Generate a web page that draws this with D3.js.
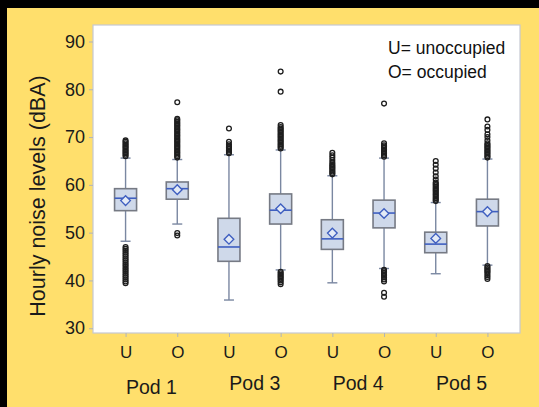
<!DOCTYPE html>
<html><head><meta charset="utf-8">
<script src="https://cdn.jsdelivr.net/npm/d3@7"></script>
<style>body{margin:0;background:#000;}svg{display:block;}</style>
</head><body>
<script>
const categories = ["U","O","U","O","U","O","U","O"];
const pods = ["Pod 1","Pod 3","Pod 4","Pod 5"];
const yTicks = [30,40,50,60,70,80,90];
const q1     = [54.6, 57.0, 44.0, 51.8, 46.5, 51.0, 45.8, 51.4];
const median = [57.2, 59.2, 47.0, 54.7, 48.7, 54.1, 47.6, 54.4];
const q3     = [59.2, 60.6, 53.0, 58.1, 52.7, 56.8, 50.1, 57.0];
const mean   = [56.7, 59.0, 48.6, 55.0, 49.9, 54.0, 48.8, 54.4];
const whiskLo= [48.2, 51.8, 35.9, 42.2, 39.5, 42.5, 41.4, 43.2];
const whiskHi= [65.6, 65.3, 66.3, 67.3, 61.9, 65.6, 56.3, 65.4];
const outliers = [
  [66.0,66.3,66.6,66.9,67.2,67.5,67.8,68.1,68.4,68.7,69.0,69.3,
   47.0,46.6,46.2,45.8,45.4,45.0,44.6,44.2,43.8,43.4,43.0,42.6,42.2,41.8,41.4,41.0,40.6,40.2,39.8,39.4],
  [65.7,66.0,66.3,66.6,66.9,67.2,67.5,67.8,68.1,68.4,68.7,69.0,69.3,69.6,69.9,70.2,70.5,70.8,71.1,71.4,71.7,72.0,72.3,72.6,72.9,73.2,73.5,73.8,77.3,
   49.9,49.4],
  [66.6,66.9,67.2,67.5,67.8,68.1,68.5,69.0,71.8],
  [67.6,67.9,68.2,68.5,68.8,69.1,69.4,69.7,70.0,70.3,70.6,70.9,71.2,71.5,71.8,72.1,72.5,79.5,83.7,
   41.8,41.5,41.2,40.9,40.6,40.3,40.0,39.6,39.2],
  [62.2,62.5,62.8,63.1,63.4,63.7,64.0,64.3,64.7,65.2,65.7,66.2,66.7],
  [65.9,66.2,66.5,66.8,67.1,67.4,67.7,68.0,68.3,68.7,77.0,
   42.2,41.9,41.6,41.3,41.0,40.6,40.2,39.8,37.4,36.6],
  [56.6,56.9,57.2,57.5,57.8,58.1,58.4,58.7,59.0,59.3,59.6,59.9,60.2,60.5,61.1,61.8,62.6,63.4,64.2,65.0],
  [65.7,66.0,66.3,66.6,66.9,67.2,67.5,67.8,68.1,68.4,68.7,69.3,70.0,70.6,71.5,72.2,73.7,
   43.0,42.7,42.4,42.1,41.8,41.5,41.1,40.7,40.3]
];
const legendLines = ["U= unoccupied","O= occupied"];
const yTitle = "Hourly noise levels (dBA)";

const W = 539, H = 407;
const svg = d3.select("body").append("svg").attr("width", W).attr("height", H);
svg.append("rect").attr("width", W).attr("height", H).attr("fill", "#000");
svg.append("rect").attr("x", 7).attr("y", 8).attr("width", W-7).attr("height", H-8).attr("fill", "#FFDF6C");

const L = 93, R = 520, T = 25, B = 333;
svg.append("rect").attr("x", L).attr("y", T).attr("width", R-L).attr("height", B-T)
  .attr("fill", "#fff").attr("stroke", "#c5c9d2").attr("stroke-width", 1.2);

const y = d3.scaleLinear().domain([29.0, 93.45]).range([B, T]);
const idx = categories.map((d,i)=>i);
const x = d3.scalePoint().domain(idx).range([L, R]).padding(0.63);

const font = "Liberation Sans, Arial, sans-serif";
const yAxis = d3.axisLeft(y).tickValues(yTicks).tickSize(4).tickPadding(4);
const ga = svg.append("g").attr("transform", `translate(${L},0)`).call(yAxis);
ga.select(".domain").remove();
ga.selectAll("line").attr("stroke", "#b0b4bc");
ga.selectAll("text").attr("font-family", font).attr("font-size", 18).attr("fill", "#1a1a1a");

const xAxis = d3.axisBottom(x).tickFormat(i => categories[i]).tickSize(4).tickPadding(9);
const gx = svg.append("g").attr("transform", `translate(0,${B})`).call(xAxis);
gx.select(".domain").remove();
gx.selectAll("line").attr("stroke", "#b0b4bc");
gx.selectAll("text").attr("font-family", font).attr("font-size", 17).attr("fill", "#1a1a1a");

pods.forEach((p, k) => {
  const cx = (x(2*k) + x(2*k+1)) / 2;
  svg.append("text").attr("x", cx).attr("y", k === 0 ? 394 : 390)
    .attr("text-anchor", "middle").attr("font-family", font).attr("font-size", 19.5)
    .attr("fill", "#1a1a1a").text(p);
});

svg.append("text").attr("transform", `translate(45,196) rotate(-90)`)
  .attr("text-anchor", "middle").attr("font-family", font).attr("font-size", 21.5)
  .attr("fill", "#1a1a1a").text(yTitle);

legendLines.forEach((t, k) => {
  svg.append("text").attr("x", 388).attr("y", 54 + k*24)
    .attr("font-family", font).attr("font-size", 17.5).attr("fill", "#111").text(t);
});

const bw = 22, cap = 10;
const g = svg.append("g");
idx.forEach(i => {
  const cx = x(i);
  g.append("line").attr("x1", cx).attr("x2", cx).attr("y1", y(q3[i])).attr("y2", y(whiskHi[i]))
    .attr("stroke", "#7a87a1").attr("stroke-width", 1.4);
  g.append("line").attr("x1", cx).attr("x2", cx).attr("y1", y(q1[i])).attr("y2", y(whiskLo[i]))
    .attr("stroke", "#7a87a1").attr("stroke-width", 1.4);
  [whiskHi[i], whiskLo[i]].forEach(v => {
    g.append("line").attr("x1", cx-cap/2).attr("x2", cx+cap/2).attr("y1", y(v)).attr("y2", y(v))
      .attr("stroke", "#7a87a1").attr("stroke-width", 1.4);
  });
  g.append("rect").attr("x", cx-bw/2).attr("y", y(q3[i])).attr("width", bw)
    .attr("height", y(q1[i]) - y(q3[i])).attr("fill", "#cfd9ea")
    .attr("stroke", "#767a84").attr("stroke-width", 1.6);
  g.append("line").attr("x1", cx-bw/2).attr("x2", cx+bw/2).attr("y1", y(median[i])).attr("y2", y(median[i]))
    .attr("stroke", "#3f5fc0").attr("stroke-width", 1.6);
  const my = y(mean[i]), r = 4.8;
  g.append("path").attr("d", `M${cx},${my-r}L${cx+r},${my}L${cx},${my+r}L${cx-r},${my}Z`)
    .attr("fill", "#e4ebf6").attr("stroke", "#3f5fc0").attr("stroke-width", 1.4);
  g.selectAll(null).data(outliers[i]).enter().append("circle")
    .attr("cx", cx).attr("cy", d => y(d)).attr("r", 2.4)
    .attr("fill", "none").attr("stroke", "#1e1e1e").attr("stroke-width", 1.3);
});
</script>
</body></html>
